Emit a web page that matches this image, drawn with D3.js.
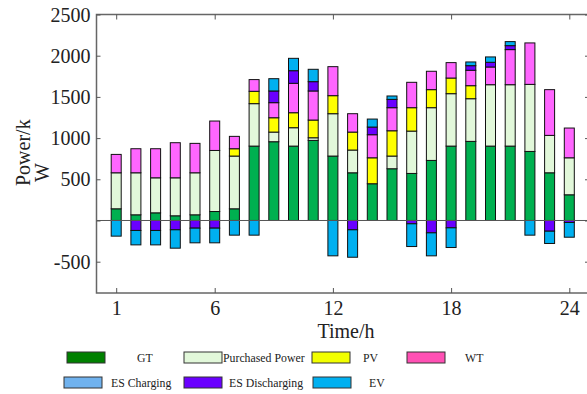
<!DOCTYPE html>
<html>
<head>
<meta charset="utf-8">
<script src="https://cdn.jsdelivr.net/npm/d3@7"></script>
<style>
  html, body { margin: 0; padding: 0; background: #fff; }
  svg { display: block; }
  svg text { font-family: "Liberation Serif", "Times New Roman", serif; }
</style>
</head>
<body>
<svg id="chart" width="587" height="394"></svg>
<script>
// hourly dispatch values, kW
var hours = d3.range(1, 25);
var gt        = [142, 69, 93, 57, 69, 109, 142, 903, 956, 903, 972, 782, 579, 446, 628, 571, 729, 903, 960, 903, 903, 838, 579, 312];
var purchased = [437, 510, 425, 461, 510, 741, 640, 515, 117, 223, 32, 514, 276, 0, 154, 514, 640, 636, 518, 745, 745, 814, 454, 449];
var pv        = [0, 0, 0, 0, 0, 0, 89, 150, 174, 182, 215, 219, 218, 315, 307, 284, 219, 190, 158, 0, 0, 0, 0, 0];
var wt        = [223, 292, 353, 426, 357, 357, 150, 142, 183, 357, 353, 352, 223, 280, 280, 308, 223, 187, 187, 215, 426, 503, 555, 361];
var es        = [0, -121, -121, -113, -93, -93, 0, 0, 142, 153, 113, 0, -113, 93, 101, -40, -150, -89, 56, 57, 48, 0, -130, -24];
var ev        = [-190, -175, -175, -223, -178, -178, -178, -178, 149, 150, 150, -429, -333, 97, 41, -276, -279, -239, 45, 65, 49, -178, -149, -179];

var yTicks = [2500, 2000, 1500, 1000, 500, 0, -500];
var xTicks = [1, 6, 12, 18, 24];

var keys = ["gt", "purchased", "pv", "wt", "es", "ev"];
var colors = {gt: "#00b050", purchased: "#e2f8da", pv: "#ffff00", wt: "#ff66ff", es: "#6a00ff", ev: "#00b0f0"};

var legendItems = [
  {label: "GT", color: "#008000", row: 0, sx: 67, tx: 137},
  {label: "Purchased Power", color: "#e2f8da", row: 0, sx: 184, tx: 223},
  {label: "PV", color: "#f2ff00", row: 0, sx: 312, tx: 363},
  {label: "WT", color: "#ff50b4", row: 0, sx: 407, tx: 465},
  {label: "ES Charging", color: "#70b2ee", row: 1, sx: 64, tx: 111},
  {label: "ES Discharging", color: "#6a00ff", row: 1, sx: 184, tx: 229},
  {label: "EV", color: "#00b0f0", row: 1, sx: 313, tx: 369}
];

var table = hours.map(function(h, i) {
  return {hour: h, gt: gt[i], purchased: purchased[i], pv: pv[i], wt: wt[i], es: es[i], ev: ev[i]};
});

var svg = d3.select("#chart");
var pLeft = 96.5, pRight = 589, pTop = 14.5, pBottom = 293;

var x = d3.scaleLinear().domain([0, 25]).range([pLeft, pRight]);
var y = d3.scaleLinear().domain([-880, 2500]).range([pBottom, pTop]);

var series = d3.stack().keys(keys).offset(d3.stackOffsetDiverging)(table);

// bars
var barW = 10;
svg.append("g").selectAll("g")
  .data(series)
  .join("g")
    .attr("fill", function(d) { return colors[d.key]; })
  .selectAll("rect")
  .data(function(d) { return d.filter(function(p) { return p[1] !== p[0]; }); })
  .join("rect")
    .attr("x", function(d) { return x(d.data.hour) - barW / 2; })
    .attr("y", function(d) { return y(Math.max(d[0], d[1])); })
    .attr("width", barW)
    .attr("height", function(d) { return Math.abs(y(d[0]) - y(d[1])); })
    .attr("stroke", "#111")
    .attr("stroke-width", 1);

// zero line
svg.append("line")
  .attr("x1", pLeft).attr("x2", pRight)
  .attr("y1", y(0)).attr("y2", y(0))
  .attr("stroke", "#555").attr("stroke-width", 1);

// frame
svg.append("rect")
  .attr("x", pLeft).attr("y", pTop)
  .attr("width", pRight - pLeft).attr("height", pBottom - pTop)
  .attr("fill", "none").attr("stroke", "#666").attr("stroke-width", 1.5);

function styleAxis(g) {
  g.attr("font-family", null).attr("font-size", null);
  g.select(".domain").remove();
  g.selectAll("line").attr("stroke", "#555");
  g.selectAll("text")
    .style("font-family", "'Liberation Serif', 'Times New Roman', serif")
    .style("font-size", "20px").attr("fill", "#222");
}

// y axis (ticks inward)
var gy = svg.append("g").attr("transform", "translate(" + pLeft + ",0)")
  .call(d3.axisLeft(y).tickValues(yTicks).tickSizeInner(-4).tickSizeOuter(0)
    .tickFormat(function(d) { return d === 0 ? "" : d; }))
  .call(styleAxis);
gy.selectAll("text").attr("x", -6).attr("dy", "0.33em");

svg.append("g").attr("transform", "translate(" + pRight + ",0)")
  .call(d3.axisRight(y).tickValues(yTicks).tickSizeInner(-4).tickSizeOuter(0).tickFormat(""))
  .call(styleAxis);

// x axis
var gx = svg.append("g").attr("transform", "translate(0," + pBottom + ")")
  .call(d3.axisBottom(x).tickValues(xTicks).tickSizeInner(-5).tickSizeOuter(0))
  .call(styleAxis);
gx.selectAll("text").attr("y", 22).attr("dy", null);

svg.append("g").attr("transform", "translate(0," + pTop + ")")
  .call(d3.axisTop(x).tickValues(xTicks).tickSizeInner(-5).tickSizeOuter(0).tickFormat(""))
  .call(styleAxis);

// axis titles
svg.append("text")
  .attr("x", 346).attr("y", 338)
  .attr("text-anchor", "middle")
  .style("font-size", "20px").attr("fill", "#222")
  .text("Time/h");

var yt = svg.append("text")
  .attr("transform", "translate(30,186) rotate(-90)")
  .style("font-size", "20px").attr("fill", "#222");
yt.append("tspan").attr("x", 0).attr("y", 0).text("Power/k");
yt.append("tspan").attr("x", 4).attr("y", 19).text("W");

// legend
var lg = svg.append("g").selectAll("g").data(legendItems).join("g");
lg.append("rect")
  .attr("x", function(d) { return d.sx; })
  .attr("y", function(d) { return 352 + d.row * 25; })
  .attr("width", 38).attr("height", 11)
  .attr("fill", function(d) { return d.color; })
  .attr("stroke", "#333").attr("stroke-width", 1);
lg.append("text")
  .attr("x", function(d) { return d.tx; })
  .attr("y", function(d) { return 362 + d.row * 25; })
  .style("font-size", "11.8px").attr("fill", "#222")
  .text(function(d) { return d.label; });
</script>
</body>
</html>
